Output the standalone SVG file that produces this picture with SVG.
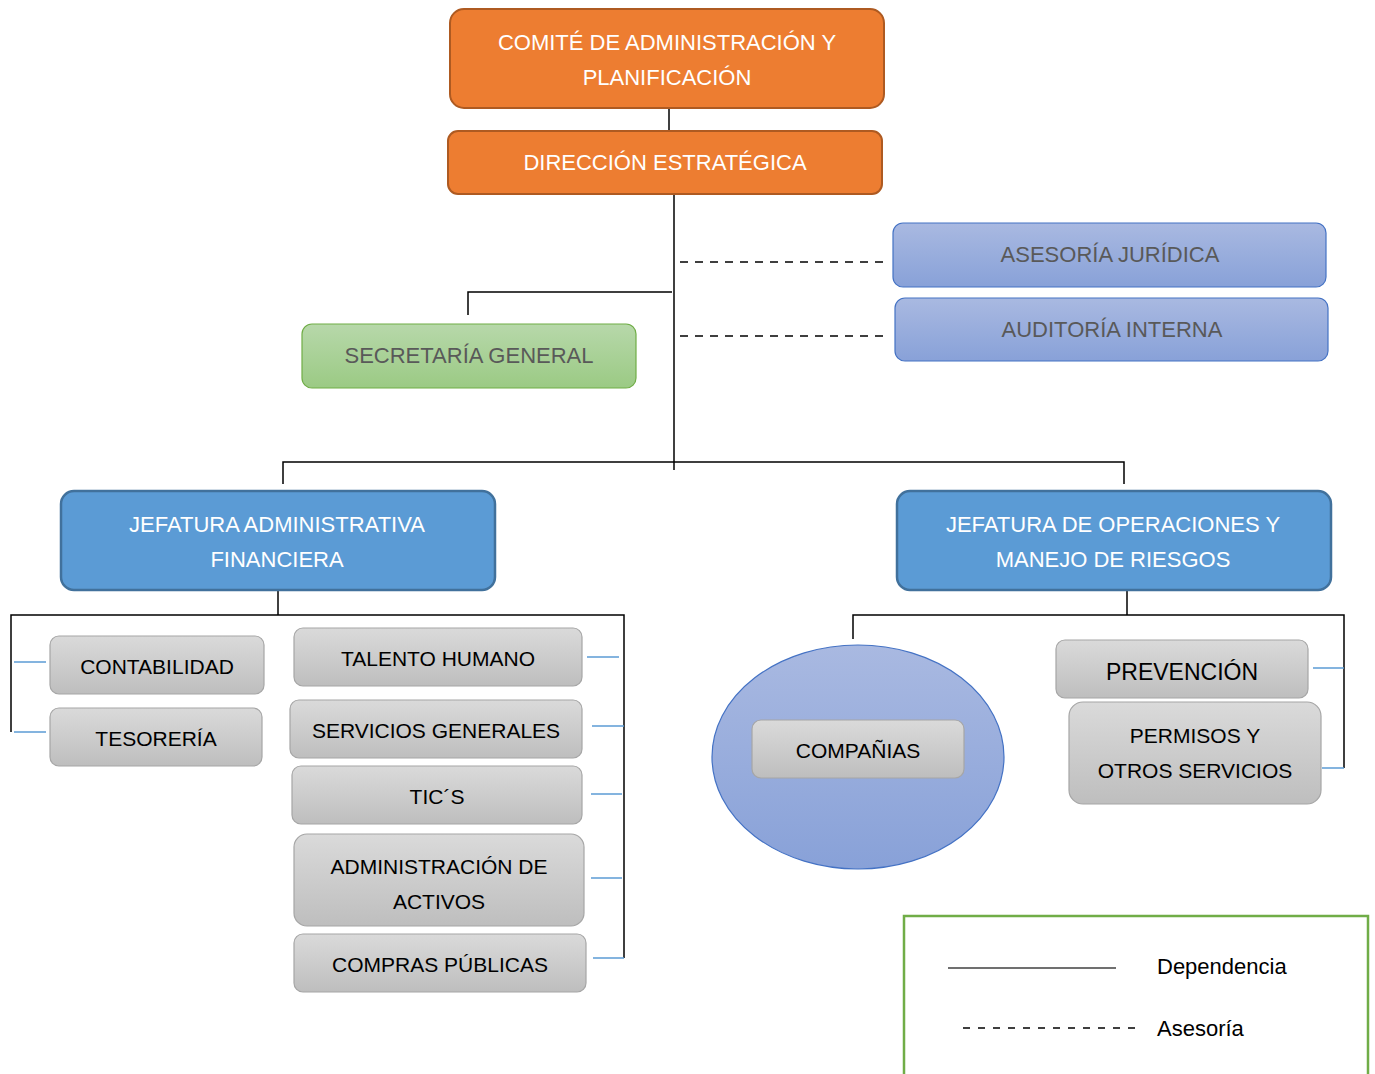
<svg xmlns="http://www.w3.org/2000/svg" width="1375" height="1074" viewBox="0 0 1375 1074">
<defs>
<linearGradient id="gBlue" x1="0" y1="0" x2="0" y2="1"><stop offset="0" stop-color="#A9B9E1"/><stop offset="1" stop-color="#88A1D8"/></linearGradient>
<linearGradient id="gGreen" x1="0" y1="0" x2="0" y2="1"><stop offset="0" stop-color="#B7D8AA"/><stop offset="1" stop-color="#9BCA84"/></linearGradient>
<linearGradient id="gGray" x1="0" y1="0" x2="0" y2="1"><stop offset="0" stop-color="#DADADA"/><stop offset="1" stop-color="#BEBEBE"/></linearGradient>
</defs>
<style>
text{font-family:"Liberation Sans",Arial,sans-serif;text-anchor:middle}
.orange{fill:#ED7D31;stroke:#AE5A21;stroke-width:2}
.wt{fill:#FFFFFF;font-size:22px}
.adv{fill:url(#gBlue);stroke:#4472C4;stroke-width:1.2}
.gt{fill:#595959;font-size:22px}
.head{fill:#5B9BD5;stroke:#41719C;stroke-width:2.5}
.gray{fill:url(#gGray);stroke:#A6A6A6;stroke-width:1.2}
.bt{fill:#000000;font-size:21px}
.ln{stroke:#000;stroke-width:1.5;fill:none}
.dash{stroke:#000;stroke-width:1.5;stroke-dasharray:8 7;fill:none}
.tick{stroke:#5B9BD5;stroke-width:1.5;fill:none}
</style>
<g id="connectors">
<line class="ln" x1="669" y1="108" x2="669" y2="130"/>
<line class="ln" x1="674" y1="194" x2="674" y2="470"/>
<line class="dash" x1="680" y1="262" x2="888" y2="262"/>
<line class="dash" x1="680" y1="336" x2="888" y2="336"/>
<polyline class="ln" points="468,315 468,292 672,292"/>
<polyline class="ln" points="283,484 283,462 1124,462 1124,484"/>
<line class="ln" x1="278" y1="590" x2="278" y2="615"/>
<polyline class="ln" points="11,732 11,615 624,615 624,958"/>
<line class="tick" x1="14" y1="662" x2="46" y2="662"/>
<line class="tick" x1="14" y1="732" x2="46" y2="732"/>
<line class="tick" x1="587" y1="657" x2="619" y2="657"/>
<line class="tick" x1="592" y1="726" x2="624" y2="726"/>
<line class="tick" x1="591" y1="794" x2="622" y2="794"/>
<line class="tick" x1="591" y1="878" x2="622" y2="878"/>
<line class="tick" x1="593" y1="958" x2="624" y2="958"/>
<line class="ln" x1="1127" y1="590" x2="1127" y2="615"/>
<polyline class="ln" points="853,639 853,615 1344,615 1344,768"/>
<line class="tick" x1="1313" y1="668" x2="1344" y2="668"/>
<line class="tick" x1="1322" y1="768" x2="1344" y2="768"/>
</g>
<g id="comite"><rect class="orange" x="450" y="9" width="434" height="99" rx="14"/><text class="wt" x="667" y="50">COMITÉ DE ADMINISTRACIÓN Y</text><text class="wt" x="667" y="85">PLANIFICACIÓN</text></g>
<g id="direccion"><rect class="orange" x="448" y="131" width="434" height="63" rx="10"/><text class="wt" x="665" y="170">DIRECCIÓN ESTRATÉGICA</text></g>
<g id="asesoria"><rect class="adv" x="893" y="223" width="433" height="64" rx="10"/><text class="gt" x="1110" y="262">ASESORÍA JURÍDICA</text></g>
<g id="auditoria"><rect class="adv" x="895" y="298" width="433" height="63" rx="10"/><text class="gt" x="1112" y="337">AUDITORÍA INTERNA</text></g>
<g id="secretaria"><rect x="302" y="324" width="334" height="64" rx="10" fill="url(#gGreen)" stroke="#70AD47" stroke-width="1.2"/><text class="gt" x="469" y="363">SECRETARÍA GENERAL</text></g>
<g id="jaf"><rect class="head" x="61" y="491" width="434" height="99" rx="13"/><text class="wt" x="277" y="532">JEFATURA ADMINISTRATIVA</text><text class="wt" x="277" y="567">FINANCIERA</text></g>
<g id="jomr"><rect class="head" x="897" y="491" width="434" height="99" rx="13"/><text class="wt" x="1113" y="532">JEFATURA DE OPERACIONES Y</text><text class="wt" x="1113" y="567">MANEJO DE RIESGOS</text></g>
<g id="contabilidad"><rect class="gray" x="50" y="636" width="214" height="58" rx="9"/><text class="bt" x="157" y="674">CONTABILIDAD</text></g>
<g id="tesoreria"><rect class="gray" x="50" y="708" width="212" height="58" rx="9"/><text class="bt" x="156" y="746">TESORERÍA</text></g>
<g id="talento"><rect class="gray" x="294" y="628" width="288" height="58" rx="9"/><text class="bt" x="438" y="666">TALENTO HUMANO</text></g>
<g id="servicios"><rect class="gray" x="290" y="700" width="292" height="58" rx="9"/><text class="bt" x="436" y="738">SERVICIOS GENERALES</text></g>
<g id="tics"><rect class="gray" x="292" y="766" width="290" height="58" rx="9"/><text class="bt" x="437" y="804">TIC´S</text></g>
<g id="activos"><rect class="gray" x="294" y="834" width="290" height="92" rx="13"/><text class="bt" x="439" y="874">ADMINISTRACIÓN DE</text><text class="bt" x="439" y="909">ACTIVOS</text></g>
<g id="compras"><rect class="gray" x="294" y="934" width="292" height="58" rx="9"/><text class="bt" x="440" y="972">COMPRAS PÚBLICAS</text></g>
<g id="companias"><ellipse cx="858" cy="757" rx="146" ry="112" fill="url(#gBlue)" stroke="#4472C4" stroke-width="1.2"/><rect class="gray" x="752" y="720" width="212" height="58" rx="9"/><text class="bt" x="858" y="758">COMPAÑIAS</text></g>
<g id="prevencion"><rect class="gray" x="1056" y="640" width="252" height="58" rx="9"/><text class="bt" x="1182" y="680" style="font-size:23px">PREVENCIÓN</text></g>
<g id="permisos"><rect class="gray" x="1069" y="702" width="252" height="102" rx="14"/><text class="bt" x="1195" y="743">PERMISOS Y</text><text class="bt" x="1195" y="778">OTROS SERVICIOS</text></g>
<g id="legend">
<path d="M904,1074 V916 H1368 V1074" fill="none" stroke="#70AD47" stroke-width="2.5"/>
<line x1="948" y1="968" x2="1116" y2="968" stroke="#404040" stroke-width="1.5"/>
<line x1="963" y1="1028" x2="1136" y2="1028" stroke="#000" stroke-width="1.5" stroke-dasharray="7 8"/>
<text x="1157" y="974" style="text-anchor:start;font-size:22px" fill="#000">Dependencia</text>
<text x="1157" y="1036" style="text-anchor:start;font-size:22px" fill="#000">Asesoría</text>
</g>
</svg>
